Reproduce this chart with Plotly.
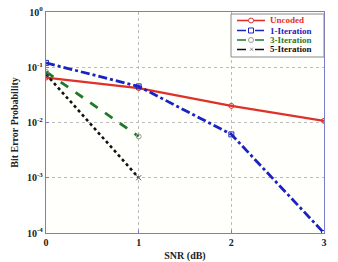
import plotly.graph_objects as go

snr = [0, 1, 2, 3]
uncoded = [0.065, 0.042, 0.020, 0.0107]
iter1 = [0.12, 0.045, 0.0061, 0.0001]
snr3 = [0, 1]
iter3 = [0.083, 0.0056]
snr5 = [0, 1]
iter5 = [0.075, 0.001]

names = ["Uncoded", "1-Iteration", "3-Iteration", "5-Iteration"]
colors = ["#e0302a", "#1a22c0", "#1e7a2a", "#111111"]
dashes = ["solid", "dashdot", "dash", "dot"]
marker_syms = ["circle-open", "square-open", "circle-open", "x-thin-open"]
marker_cols = ["#e0302a", "#1a22c0", "#999999", "#555555"]

ytick_vals = [1e-4, 1e-3, 1e-2, 1e-1, 1]
ytick_text = ["10<sup>-4</sup>", "10<sup>-3</sup>", "10<sup>-2</sup>", "10<sup>-1</sup>", "10<sup>0</sup>"]
xtick_vals = [0, 1, 2, 3]

axis_col = "#7b7bd0"
font_fam = "Liberation Serif, Times New Roman, serif"

W, H = 338, 262
ML, MR, MT, MB = 46, 14, 12, 29
PW, PH = W - ML - MR, H - MT - MB


def px(x):
    return (x - ML) / PW


def py(y):
    return (H - MB - y) / PH


xs_list = [snr, snr, snr3, snr5]
ys_list = [uncoded, iter1, iter3, iter5]
widths = [2.2, 2.8, 2.8, 2.6]

fig = go.Figure()
for i in range(4):
    fig.add_trace(go.Scatter(x=xs_list[i], y=ys_list[i], name=names[i], mode="lines+markers",
                             line=dict(color=colors[i], width=widths[i], dash=dashes[i]),
                             marker=dict(symbol=marker_syms[i], size=5, color=marker_cols[i],
                                         line=dict(width=1))))

# manual compact legend
shapes = [dict(type="rect", xref="paper", yref="paper", x0=px(231), x1=px(324), y0=py(57), y1=py(14),
               line=dict(color="#888888", width=1), fillcolor="white", layer="above")]
annots = []
leg_dash = ["solid", "dashdot", "dashdot", "dash"]
rows = [20.5, 30.5, 40, 49.5]
for i in range(4):
    yy = py(rows[i])
    shapes.append(dict(type="line", xref="paper", yref="paper", x0=px(237), x1=px(265), y0=yy, y1=yy,
                       line=dict(color=colors[i], width=1.6, dash=leg_dash[i]), layer="above"))
    if i == 3:
        annots.append(dict(xref="paper", yref="paper", x=px(251), y=yy, text="×", showarrow=False,
                           font=dict(size=9, color="#555555"), xanchor="center", yanchor="middle"))
    else:
        shapes.append(dict(type="rect" if i == 1 else "circle", xref="paper", yref="paper",
                           xsizemode="pixel", ysizemode="pixel", xanchor=px(251), yanchor=yy,
                           x0=-2.5, x1=2.5, y0=-2.5, y1=2.5, fillcolor="white",
                           line=dict(color=marker_cols[i], width=1), layer="above"))
    annots.append(dict(xref="paper", yref="paper", x=px(268), y=yy,
                       text="<b>%s</b>" % names[i], showarrow=False,
                       font=dict(family=font_fam, size=9, color=colors[i]),
                       xanchor="left", yanchor="middle"))

fig.update_layout(
    width=W, height=H,
    margin=dict(l=ML, r=MR, t=MT, b=MB),
    paper_bgcolor="white", plot_bgcolor="#fffffb",
    font=dict(family=font_fam, size=10, color="#222222"),
    showlegend=False,
    shapes=shapes, annotations=annots,
)
fig.update_xaxes(range=[0, 3], tickvals=xtick_vals, ticktext=["<b>%d</b>" % v for v in xtick_vals],
                 showline=True, linecolor=axis_col, linewidth=1.3, mirror=True,
                 showgrid=True, gridcolor="#bbbbbb", griddash="dot", gridwidth=1,
                 ticks="inside", ticklen=3, tickcolor=axis_col, zeroline=False,
                 tickfont=dict(size=10), automargin=False,
                 title=dict(text="<b>SNR (dB)</b>", standoff=20, font=dict(size=10)))
fig.update_yaxes(type="log", range=[-4, 0], tickvals=ytick_vals, ticktext=["<b>%s</b>" % t for t in ytick_text],
                 showline=True, linecolor=axis_col, linewidth=1.3, mirror=True,
                 showgrid=True, gridcolor="#bbbbbb", griddash="dot", gridwidth=1,
                 ticks="inside", ticklen=3, tickcolor=axis_col, zeroline=False,
                 tickfont=dict(size=10), automargin=False,
                 title=dict(text="<b>Bit Error Probability</b>", standoff=6, font=dict(size=10)))

fig.write_html("out.html")
